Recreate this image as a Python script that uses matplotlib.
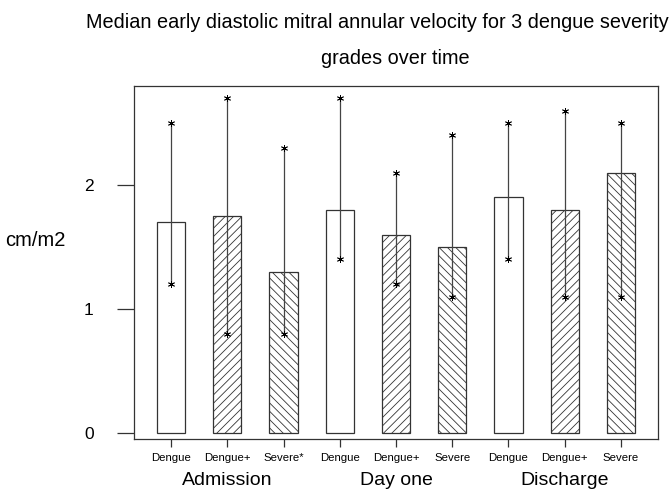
import numpy as np
import matplotlib
matplotlib.use("Agg")
import matplotlib.pyplot as plt

plt.rcParams['font.family'] = ['Liberation Sans', 'DejaVu Sans']
plt.rcParams['hatch.linewidth'] = 0.6
plt.rcParams['hatch.color'] = '#333333'

# data
groups = ["Dengue", "Dengue+", "Severe*", "Dengue", "Dengue+", "Severe",
          "Dengue", "Dengue+", "Severe"]
times = ["Admission", "Day one", "Discharge"]
median = [1.7, 1.75, 1.3, 1.8, 1.6, 1.5, 1.9, 1.8, 2.1]
upper = [2.5, 2.7, 2.3, 2.7, 2.1, 2.4, 2.5, 2.6, 2.5]
lower = [1.2, 0.8, 0.8, 1.4, 1.2, 1.1, 1.4, 1.1, 1.1]
hatches = ["", "////", "\\\\\\\\"] * 3

fig = plt.figure(figsize=(6.72, 4.97), dpi=100)
ax = fig.add_axes([134/672, 58/497, 524/672, 353/497])

x = np.arange(1, len(median) + 1)
for xi, m, h in zip(x, median, hatches):
    ax.bar(xi, m, width=0.5, color='white', edgecolor='#333333',
           linewidth=0.9, hatch=h, zorder=2)

for xi, lo, hi in zip(x, lower, upper):
    ax.plot([xi, xi], [lo, hi], color='#444444', lw=0.9, zorder=3)
    ax.plot([xi, xi], [lo, hi], ls='none', marker=(6, 2, 0), ms=5,
            mew=0.6, color='black', zorder=4)

ax.set_xlim(0.34, 9.66)
ax.set_ylim(-0.048, 2.798)
ax.set_yticks([0, 1, 2])
ax.set_yticklabels(["0", "1", "2"], fontsize=12.5)
ax.set_xticks(x)
ax.set_xticklabels(groups, fontsize=8.2)
ax.tick_params(axis='y', length=12, width=0.9, pad=17, color='#333333')
ax.tick_params(axis='x', length=6, width=0.9, pad=4, color='#333333')
for s in ax.spines.values():
    s.set_linewidth(0.9)
    s.set_color('#333333')

for i, t in enumerate(times):
    ax.text(2 + 3 * i, -0.38, t, ha='center', va='center', fontsize=14,
            transform=ax.transData, clip_on=False)

fig.text(5/672, 1 - 240/497, "cm/m2", ha='left', va='center', fontsize=14.5)
fig.text(377/672, 1 - 22/497,
         "Median early diastolic mitral annular velocity for 3 dengue severity",
         ha='center', va='center', fontsize=14.3)
fig.text(395/672, 1 - 59/497, "grades over time", ha='center', va='center',
         fontsize=14.3)

fig.savefig("out.png", dpi=100)
